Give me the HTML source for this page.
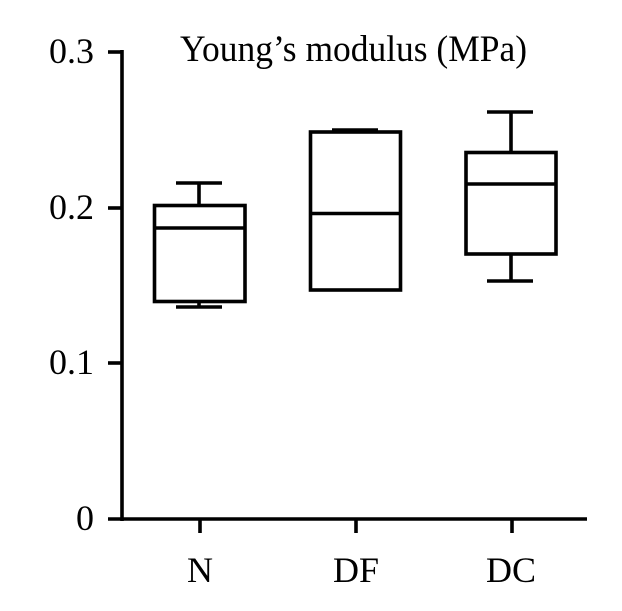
<!DOCTYPE html>
<html><head><style>html,body{margin:0;padding:0;background:#fff;} text{font-family:"Liberation Serif","Times New Roman",serif;font-size:36px;}</style></head>
<body>
<svg width="622" height="606" xmlns="http://www.w3.org/2000/svg" fill="none" stroke="#000" stroke-width="3.6">
<line x1="122" y1="50" x2="122" y2="521"/>
<line x1="108" y1="519" x2="587" y2="519"/>
<line x1="108" y1="52" x2="122" y2="52"/>
<line x1="108" y1="208" x2="122" y2="208"/>
<line x1="108" y1="363" x2="122" y2="363"/>
<line x1="200" y1="519" x2="200" y2="533"/>
<line x1="356" y1="519" x2="356" y2="533"/>
<line x1="512" y1="519" x2="512" y2="533"/>
<rect x="154.5" y="205.5" width="90.5" height="96"/>
<line x1="154.5" y1="228" x2="245" y2="228"/>
<line x1="199" y1="183" x2="199" y2="205"/>
<line x1="176" y1="183" x2="222" y2="183"/>
<line x1="199" y1="302" x2="199" y2="307"/>
<line x1="176" y1="307" x2="222" y2="307"/>
<rect x="310.5" y="132" width="90" height="158"/>
<line x1="310.5" y1="213.5" x2="400.5" y2="213.5"/>
<line x1="332" y1="130" x2="378" y2="130"/>
<rect x="466" y="152.5" width="90" height="101.5"/>
<line x1="466" y1="184" x2="556" y2="184"/>
<line x1="511" y1="112" x2="511" y2="152"/>
<line x1="487" y1="112" x2="533" y2="112"/>
<line x1="511" y1="254" x2="511" y2="281"/>
<line x1="487" y1="281" x2="533" y2="281"/>
<g fill="#000" stroke="none">
<text x="94" y="63" text-anchor="end">0.3</text>
<text x="94" y="219" text-anchor="end">0.2</text>
<text x="94" y="374" text-anchor="end">0.1</text>
<text x="94" y="530" text-anchor="end">0</text>
<text x="180" y="61" textLength="347" lengthAdjust="spacingAndGlyphs" style="font-size:37px">Young’s modulus (MPa)</text>
<text x="200" y="582" text-anchor="middle">N</text>
<text x="356" y="582" text-anchor="middle">DF</text>
<text x="511" y="582" text-anchor="middle">DC</text>
</g>
</svg>
</body></html>
